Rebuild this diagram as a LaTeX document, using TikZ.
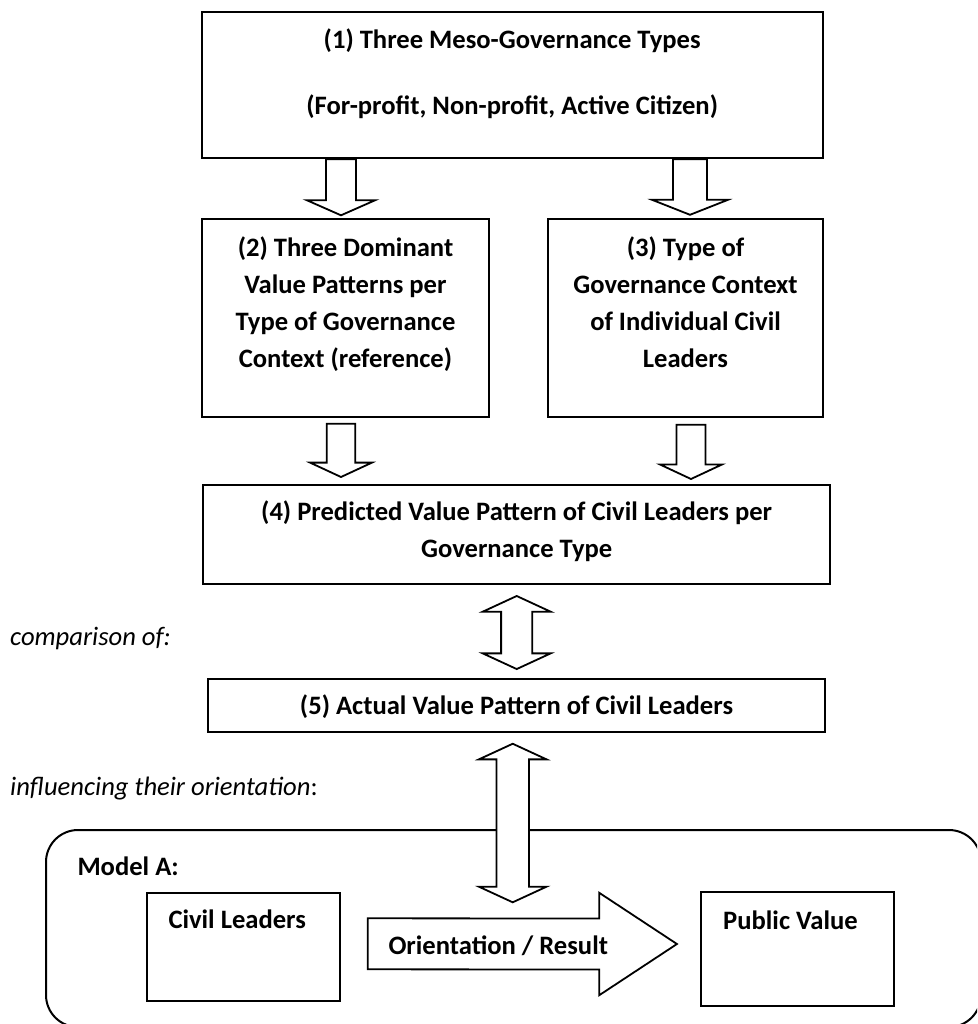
\documentclass[tikz,border=0pt]{standalone}
\usepackage{fontspec}
\setmainfont{Carlito}
\usetikzlibrary{calc}
\newcommand\diagfont{\fontsize{26.6}{37.2}\selectfont}
% #1 start, #2 tip, #3 shaft half width, #4 head half width, #5 head length
\newcommand\DownBlock[5]{%
  \draw[blockarr] ($(#1)+(-#3,0)$) -- ($(#2)+(-#3,-#5)$) -- ($(#2)+(-#4,-#5)$) -- (#2)
    -- ($(#2)+(#4,-#5)$) -- ($(#2)+(#3,-#5)$) -- ($(#1)+(#3,0)$) -- cycle;}
% #1 top tip, #2 bottom tip, #3 shaft half width, #4 head half width, #5 head length
\newcommand\DoubleBlock[5]{%
  \draw[blockarr] (#1) -- ($(#1)+(#4,#5)$) -- ($(#1)+(#3,#5)$) -- ($(#2)+(#3,-#5)$)
    -- ($(#2)+(#4,-#5)$) -- (#2) -- ($(#2)+(-#4,-#5)$) -- ($(#2)+(-#3,-#5)$)
    -- ($(#1)+(-#3,#5)$) -- ($(#1)+(-#4,#5)$) -- cycle;}
\begin{document}
\begin{tikzpicture}[x=1pt,y=-1pt,
  box/.style={draw,line width=2pt,inner sep=0pt},
  blockarr/.style={draw,line width=1.8pt,fill=white,line join=miter},
  lbl/.style={font=\diagfont\bfseries,inner sep=0pt,anchor=base},
  lblw/.style={font=\diagfont\bfseries,inner sep=0pt,anchor=base west},
  ital/.style={font=\diagfont,inner sep=0pt,anchor=base west}]
\useasboundingbox (0,0) rectangle (977,1024);
\begin{scope}
\clip (0,0) rectangle (977,1024);

% boxes
\node[box,minimum width=621pt,minimum height=146pt] (b1) at (512.2,85.3) {};
\node[box,minimum width=287.6pt,minimum height=197.4pt] (b2) at (345.5,318) {};
\node[box,minimum width=274.4pt,minimum height=198pt] (b3) at (685.5,318.3) {};
\node[box,minimum width=626.7pt,minimum height=99pt] (b4) at (516.7,534.5) {};
\node[box,minimum width=617.6pt,minimum height=52.7pt] (b5) at (516.5,705.4) {};

% model frame
\draw[line width=2pt,rounded corners=32pt] (46,830) rectangle (981,1027);
\node[box,minimum width=192.7pt,minimum height=108pt] (cl) at (243.7,946.7) {};
\node[box,minimum width=192.7pt,minimum height=114pt] (pv) at (797.3,949.3) {};

% box texts
\node[lbl] (t1a) at (512.2,49) {(1) Three Meso-Governance Types};
\node[lbl] (t1b) at (512.2,114.3) {(For-profit, Non-profit, Active Citizen)};

\node[lbl] (t2a) at (345.5,256) {(2) Three Dominant};
\node[lbl] (t2b) at (345.5,293.3) {Value Patterns per};
\node[lbl] (t2c) at (345.5,330) {Type of Governance};
\node[lbl] (t2d) at (345.5,367.7) {Context (reference)};

\node[lbl] (t3a) at (685.5,256) {(3) Type of};
\node[lbl] (t3b) at (685.5,293.3) {Governance Context};
\node[lbl] (t3c) at (685.5,330) {of Individual Civil};
\node[lbl] (t3d) at (685.5,367.7) {Leaders};

\node[lbl] (t4a) at (516.7,520.7) {(4) Predicted Value Pattern of Civil Leaders per};
\node[lbl] (t4b) at (516.7,557.7) {Governance Type};

\node[lbl] (t5) at (516.5,714) {(5) Actual Value Pattern of Civil Leaders};

\node[ital] (cmp) at (10,645) {\itshape comparison of:};
\node[ital] (inf) at (10,795) {{\itshape influencing their orientation}:};

\node[lblw] (ma) at (77.3,875) {Model A:};
\node[lblw] (tcl) at (168.3,928.3) {Civil Leaders};
\node[lblw] (tpv) at (723,929) {Public Value};

% arrow anchor coordinates
\coordinate (a12s) at (341,0 |- b1.south);
\coordinate (a12e) at ($(341,0 |- b2.north)+(0,-3)$);
\coordinate (a13s) at (690,0 |- b1.south);
\coordinate (a13e) at ($(690,0 |- b3.north)+(0,-3.5)$);
\coordinate (a24s) at ($(341,0 |- b2.south)+(0,6)$);
\coordinate (a24e) at ($(341,0 |- b4.north)+(0,-7)$);
\coordinate (a34s) at ($(691,0 |- b3.south)+(0,6.5)$);
\coordinate (a34e) at ($(691,0 |- b4.north)+(0,-5)$);
\coordinate (d45a) at ($(516.7,0 |- b4.south)+(0,11)$);
\coordinate (d45b) at ($(516.7,0 |- b5.north)+(0,-9)$);
\coordinate (d5ma) at ($(512.7,0 |- b5.south)+(0,11)$);
\coordinate (d5mb) at ($(512.7,0 |- cl.north)+(0,10.6)$);
\coordinate (ors) at ($(cl.east)+(26.7,-2.9)$);
\coordinate (ore) at ($(pv.west)+(-23,-5.3)$);

% block arrows
\DownBlock{a12s}{a12e}{15}{34}{15}
\DownBlock{a13s}{a13e}{17}{38}{15}
\DownBlock{a24s}{a24e}{14.3}{31}{14.4}
\DownBlock{a34s}{a34e}{14.5}{31}{14.5}
\DoubleBlock{d45a}{d45b}{15.6}{34}{15.7}
\DoubleBlock{d5ma}{d5mb}{16.2}{33.8}{15.6}

\draw[blockarr] ($(ors)+(0,-25.5)$) -- ($(ore)+(-77.7,-25.5)$) -- ($(ore)+(-77.7,-51.2)$) -- (ore)
  -- ($(ore)+(-77.7,51.2)$) -- ($(ore)+(-77.7,25.5)$) -- ($(ors)+(0,25.5)$) -- cycle;
\node[lblw] (tor) at (388.3,954) {Orientation / Result};
\end{scope}
\end{tikzpicture}
\end{document}
